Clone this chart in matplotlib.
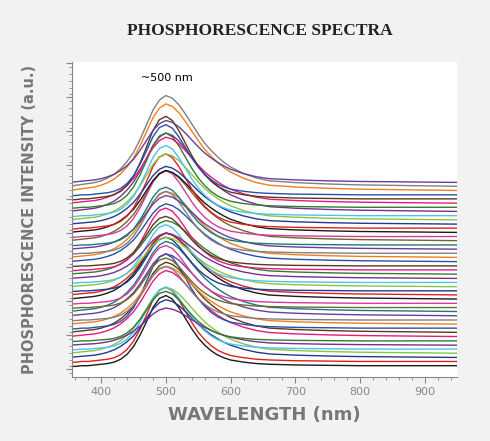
import matplotlib.pyplot as plt
import numpy as np
from matplotlib.ticker import MultipleLocator

# shared spectral profiles (normalised)
wl = [350, 360, 370, 380, 390, 400, 410, 420, 430, 440, 450, 460, 470, 480, 490, 500,
      510, 520, 530, 540, 550, 560, 570, 580, 590, 600, 620, 640, 660, 700, 750, 800, 900, 950]
narrow = [0.0, 0.0, 0.01, 0.01, 0.02, 0.03, 0.04, 0.06, 0.10, 0.17, 0.28, 0.44, 0.63, 0.83, 0.96, 1.0,
          0.95, 0.83, 0.68, 0.53, 0.40, 0.30, 0.22, 0.16, 0.12, 0.09, 0.06, 0.04, 0.03, 0.02, 0.015, 0.01, 0.01, 0.01]
broad = [0.01, 0.02, 0.03, 0.04, 0.05, 0.07, 0.10, 0.14, 0.20, 0.28, 0.38, 0.52, 0.68, 0.84, 0.95, 1.0,
         0.97, 0.90, 0.80, 0.69, 0.58, 0.48, 0.40, 0.33, 0.27, 0.22, 0.15, 0.10, 0.07, 0.05, 0.035, 0.025, 0.015, 0.01]

# one entry per spectrum, bottom to top
amps = [17, 18, 14, 16, 15, 9, 12, 16, 17, 18, 14, 13, 15, 17, 12, 14, 16, 15, 13, 12, 14, 11, 13,
        15, 12, 14, 16, 15, 13, 14, 17, 16, 15, 18, 14, 16, 17, 19, 18, 16, 20, 17, 21, 22, 15]
kinds = "nnbbnbnbbnbnbbnnbbnbnbbnnbbnbnbnbnbbnbnbnnbbb"
palette = ["#1a1a1a", "#e0201b", "#1f3a93", "#8bc53f", "#4fc3e8", "#7a2e8e", "#2e7d32", "#e8197d",
           "#5b3a1a", "#2b4fa8", "#f07f1d", "#808080", "#6a3d9a", "#1b7a7a", "#6b6b2a", "#d63aa0"]

fig = plt.figure(figsize=(4.9, 4.41), dpi=100, facecolor="#f2f2f2")
ax = fig.add_axes([0.147, 0.145, 0.786, 0.714])
ax.set_facecolor("white")

for i, a in enumerate(amps):
    prof = np.array(narrow if kinds[i] == "n" else broad)
    ax.plot(wl, i + a * prof, color=palette[i % len(palette)], lw=1.0)

ax.set_xlim(355, 950)
ax.set_ylim(-2.56, 73)
ax.xaxis.set_major_locator(MultipleLocator(100))
ax.xaxis.set_minor_locator(MultipleLocator(20))
ax.set_yticks(np.arange(-0.56, 73, 8.16))
ax.yaxis.set_minor_locator(MultipleLocator(8.16 / 5))
ax.set_yticklabels([])
ax.tick_params(colors="#888888", labelcolor="#888888", labelsize=8, direction="out")
ax.tick_params(which="major", length=4)
ax.tick_params(which="minor", length=2, colors="#888888")
for s in ["top", "right"]:
    ax.spines[s].set_visible(False)
for s in ["left", "bottom"]:
    ax.spines[s].set_color("#888888")

ax.text(501, 69.3, "~500 nm", ha="center", va="center", fontsize=8)
ax.set_xlabel("WAVELENGTH (nm)", fontsize=13, fontweight="bold", color="#777777", labelpad=6)
ax.set_ylabel("PHOSPHORESCENCE INTENSITY (a.u.)", fontsize=10.5, fontweight="bold",
              color="#777777", labelpad=18)
fig.text(0.53, 0.92, "PHOSPHORESCENCE SPECTRA", ha="center", fontsize=12.5, fontweight="bold",
         family="Liberation Serif", color="#222222")

fig.savefig("out.png", dpi=100, facecolor=fig.get_facecolor())
